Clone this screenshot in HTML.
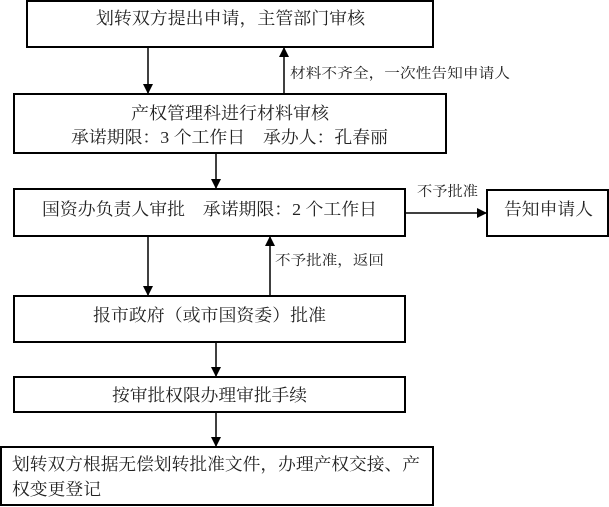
<!DOCTYPE html>
<html><head><meta charset="utf-8"><style>
html,body{margin:0;padding:0;background:#fff;width:609px;height:507px;overflow:hidden}
svg{display:block}
text{font-family:"Liberation Serif","Noto Serif CJK SC",serif;fill:#222}
.b{font-size:17px}
.s{font-size:14px}
</style></head><body>
<svg width="609" height="507" viewBox="0 0 609 507" xmlns="http://www.w3.org/2000/svg">
<defs><marker id="a" markerWidth="10" markerHeight="10" refX="9" refY="5" orient="auto" markerUnits="userSpaceOnUse"><path d="M0,0 L10,5 L0,10 z" fill="#000"/></marker></defs>
<g fill="none" stroke="#000" stroke-width="2">
<rect x="27" y="1" width="406" height="46"/>
<rect x="14" y="94" width="432" height="59"/>
<rect x="14" y="189" width="391" height="47"/>
<rect x="487" y="190" width="121" height="46"/>
<rect x="14" y="296" width="391" height="46"/>
<rect x="14" y="377" width="391" height="35"/>
<rect x="1" y="447" width="432" height="58"/>
</g>
<g stroke="#000" stroke-width="1.5" marker-end="url(#a)">
<line x1="148" y1="47" x2="148" y2="93"/>
<line x1="284" y1="94" x2="284" y2="48"/>
<line x1="216" y1="153" x2="216" y2="188"/>
<line x1="405" y1="213" x2="486" y2="213"/>
<line x1="148" y1="236" x2="148" y2="295"/>
<line x1="270" y1="296" x2="270" y2="237"/>
<line x1="216" y1="342" x2="216" y2="376"/>
<line x1="216" y1="412" x2="216" y2="446"/>
</g>
<text class="b" x="96" y="24" textLength="269" lengthAdjust="spacingAndGlyphs">划转双方提出申请，主管部门审核</text>
<text class="s" x="290" y="78" textLength="220" lengthAdjust="spacingAndGlyphs">材料不齐全，一次性告知申请人</text>
<text class="b" x="131" y="119" textLength="198" lengthAdjust="spacingAndGlyphs">产权管理科进行材料审核</text>
<text class="b" x="71" y="143" textLength="317" lengthAdjust="spacingAndGlyphs">承诺期限：3 个工作日　承办人：孔春丽</text>
<text class="b" x="42" y="215" textLength="335" lengthAdjust="spacingAndGlyphs">国资办负责人审批　承诺期限：2 个工作日</text>
<text class="s" x="417" y="196" textLength="61" lengthAdjust="spacingAndGlyphs">不予批准</text>
<text class="b" x="504" y="215" textLength="89" lengthAdjust="spacingAndGlyphs">告知申请人</text>
<text class="s" x="275" y="265" textLength="109" lengthAdjust="spacingAndGlyphs">不予批准，返回</text>
<text class="b" x="93" y="321" textLength="233" lengthAdjust="spacingAndGlyphs">报市政府（或市国资委）批准</text>
<text class="b" x="112" y="401" textLength="195" lengthAdjust="spacingAndGlyphs">按审批权限办理审批手续</text>
<text class="b" x="12" y="470" textLength="408" lengthAdjust="spacingAndGlyphs">划转双方根据无偿划转批准文件，办理产权交接、产</text>
<text class="b" x="12" y="495" textLength="89" lengthAdjust="spacingAndGlyphs">权变更登记</text>
</svg>
</body></html>
